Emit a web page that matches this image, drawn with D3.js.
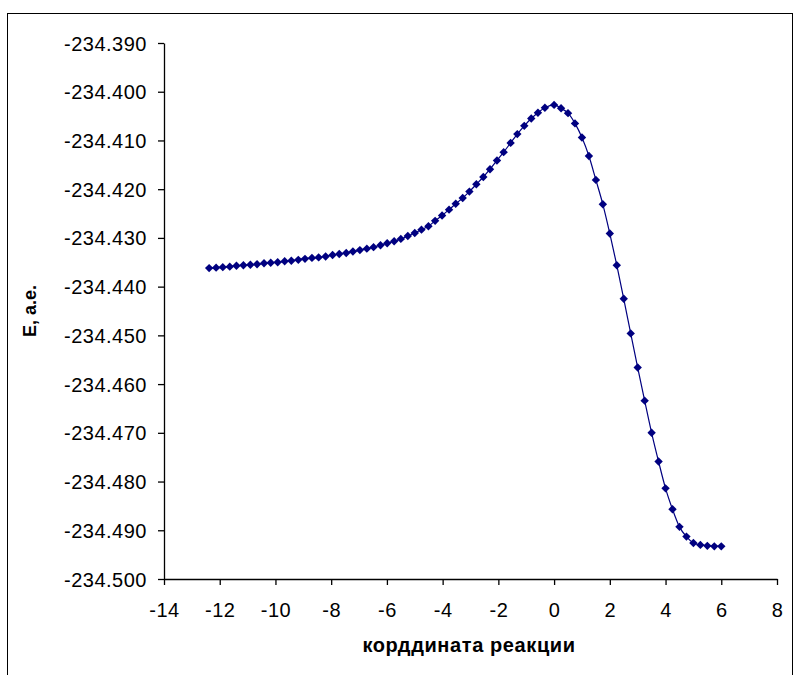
<!DOCTYPE html>
<html>
<head>
<meta charset="utf-8">
<script src="https://cdn.jsdelivr.net/npm/d3@7"></script>
<style>
  body { margin: 0; background: #fff; }
  text { font-family: "Liberation Sans", Arial, sans-serif; fill: #000; }
</style>
</head>
<body>
<div id="chart"></div>
<script>
/**
 * DATA
 * */
// IRC: reverse branch (before TS) and forward branch (after TS)
const xReverse = [-12.38, -12.13, -11.89, -11.64, -11.40, -11.15, -10.90, -10.66, -10.41, -10.17,
  -9.92, -9.67, -9.43, -9.18, -8.94, -8.69, -8.45, -8.20, -7.95, -7.71,
  -7.46, -7.22, -6.97, -6.72, -6.48, -6.23, -5.99, -5.74, -5.50, -5.25,
  -5.00, -4.76, -4.51, -4.27, -4.02, -3.77, -3.53, -3.28, -3.04, -2.79,
  -2.54, -2.30, -2.05, -1.81, -1.56, -1.32, -1.07, -0.82, -0.58, -0.33];
const eReverse = [-234.4362, -234.4361, -234.4360, -234.4359, -234.4357, -234.4356, -234.4355, -234.4354, -234.4352, -234.4351,
  -234.4350, -234.4348, -234.4347, -234.4345, -234.4343, -234.4341, -234.4340, -234.4338, -234.4335, -234.4333,
  -234.4331, -234.4328, -234.4325, -234.4322, -234.4319, -234.4315, -234.4311, -234.4307, -234.4302, -234.4296,
  -234.4290, -234.4283, -234.4276, -234.4265, -234.4254, -234.4242, -234.4230, -234.4218, -234.4205, -234.4190,
  -234.4175, -234.4159, -234.4141, -234.4124, -234.4105, -234.4087, -234.4070, -234.4055, -234.4043, -234.4033];

const xForward = [0, 0.25, 0.5, 0.75, 1.0, 1.25, 1.5, 1.75, 2.0, 2.25,
  2.5, 2.75, 3.0, 3.25, 3.5, 3.75, 4.0, 4.25, 4.5, 4.75,
  5.0, 5.25, 5.5, 5.75, 6.0];
const eForward = [-234.4027, -234.4034, -234.4044, -234.4065, -234.4094, -234.4132, -234.4181, -234.4231, -234.4291, -234.4356,
  -234.4425, -234.4496, -234.4566, -234.4634, -234.4700, -234.4759, -234.4814, -234.4857, -234.4893, -234.4913,
  -234.4926, -234.4930, -234.4932, -234.4933, -234.4933];

const xTicks = [-14, -12, -10, -8, -6, -4, -2, 0, 2, 4, 6, 8];
const yTicks = [-234.39, -234.40, -234.41, -234.42, -234.43, -234.44, -234.45, -234.46, -234.47, -234.48, -234.49, -234.50];

const xTitle = "корддината реакции";
const yTitle = "E, а.е.";

/**
 * CONSTANTS
 * */
const width = 795,
  height = 675,
  margin = { top: 43, bottom: 96, left: 164, right: 18 };

const navy = "#000080";

// plain hyphen for negatives, like the original
const hyphen = f => d => f(d).replace("\u2212", "-");

/**
 * DRAW
 * */
const svg = d3.select("#chart")
  .append("svg")
  .attr("width", width)
  .attr("height", height);

// outer chart border
svg.append("rect")
  .attr("x", 7.5)
  .attr("y", 13.5)
  .attr("width", 785)
  .attr("height", 680)
  .attr("fill", "#fff")
  .attr("stroke", "#000")
  .attr("stroke-width", 1);

const xScale = d3.scaleLinear()
  .domain([-14, 8])
  .range([margin.left, width - margin.right]);

const yScale = d3.scaleLinear()
  .domain([-234.50, -234.39])
  .range([height - margin.bottom, margin.top]);

const points = xReverse.map((x, i) => ({ x, e: eReverse[i] }))
  .concat(xForward.map((x, i) => ({ x, e: eForward[i] })));

// axes
const xAxis = d3.axisBottom(xScale)
  .tickValues(xTicks)
  .tickSize(6)
  .tickSizeOuter(0)
  .tickFormat(hyphen(d3.format("d")));

const yAxis = d3.axisLeft(yScale)
  .tickValues(yTicks)
  .tickSize(6)
  .tickSizeOuter(0)
  .tickFormat(hyphen(d3.format(".3f")));

const gx = svg.append("g")
  .attr("transform", `translate(0,${yScale.range()[0]})`)
  .call(xAxis);

const gy = svg.append("g")
  .attr("transform", `translate(${xScale.range()[0]},0)`)
  .call(yAxis);

[gx, gy].forEach(g => {
  g.select(".domain").attr("stroke", "#000").attr("stroke-width", 1.3);
  g.selectAll(".tick line").attr("stroke", "#000").attr("stroke-width", 1.3);
  g.selectAll(".tick text")
    .attr("font-family", "Liberation Sans, Arial, sans-serif")
    .attr("font-size", 20)
    .attr("letter-spacing", 0.5)
    .attr("fill", "#000");
});
gx.selectAll(".tick text").attr("y", 38).attr("dy", 0);
gy.selectAll(".tick text").attr("x", -17).attr("dy", "0.35em");

// line
const line = d3.line()
  .x(d => xScale(d.x))
  .y(d => yScale(d.e))
  .curve(d3.curveMonotoneX);

svg.append("path")
  .datum(points)
  .attr("fill", "none")
  .attr("stroke", navy)
  .attr("stroke-width", 1.2)
  .attr("d", line);

// diamond markers
svg.append("g")
  .selectAll("path")
  .data(points)
  .join("path")
  .attr("transform", d => `translate(${xScale(d.x)},${yScale(d.e)})`)
  .attr("d", "M0,-4.2L4.2,0L0,4.2L-4.2,0Z")
  .attr("fill", navy);

// titles
svg.append("text")
  .attr("x", 469)
  .attr("y", 652)
  .attr("text-anchor", "middle")
  .attr("font-size", 20)
  .attr("letter-spacing", 0.6)
  .attr("font-weight", "bold")
  .text(xTitle);

svg.append("text")
  .attr("transform", `translate(36,${(margin.top + height - margin.bottom) / 2}) rotate(-90)`)
  .attr("text-anchor", "middle")
  .attr("font-size", 18)
  .attr("font-weight", "bold")
  .text(yTitle);
</script>
</body>
</html>
